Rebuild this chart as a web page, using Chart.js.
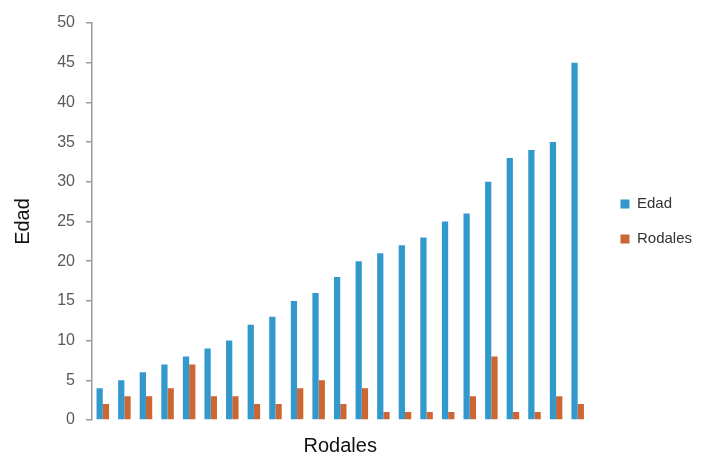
<!DOCTYPE html>
<html>
<head>
<meta charset="utf-8">
<script src="https://cdn.jsdelivr.net/npm/chart.js@4"></script>
<style>
  html, body { margin: 0; padding: 0; background: #ffffff; }
  #wrap { width: 702px; height: 456px; }
</style>
</head>
<body>
<div id="wrap"><canvas id="edadChart"></canvas></div>
<script>
// one group per rodal, 23 in all
var rodales = ['1', '2', '3', '4', '5', '6', '7', '8', '9', '10', '11', '12',
               '13', '14', '15', '16', '17', '18', '19', '20', '21', '22', '23'];
var edad = [4, 5, 6, 7, 8, 9, 10, 12, 13, 15, 16, 18, 20, 21, 22, 23, 25, 26, 30, 33, 34, 35, 45];
var rodalesCount = [2, 3, 3, 4, 7, 3, 3, 2, 2, 4, 5, 2, 4, 1, 1, 1, 1, 3, 8, 1, 1, 3, 2];

var axisGrey = '#9a9a9a';
var textGrey = '#5a5a5a';

var ctx = document.getElementById('edadChart').getContext('2d');
var edadChart = new Chart(ctx, {
    type: 'bar',
    data: {
        labels: rodales,
        datasets: [{
            label: 'Edad',
            data: edad,
            backgroundColor: '#3399CC',
            categoryPercentage: 0.58,
            barPercentage: 1.0
        }, {
            label: 'Rodales',
            data: rodalesCount,
            backgroundColor: '#CC6633',
            categoryPercentage: 0.58,
            barPercentage: 1.0
        }]
    },
    options: {
        responsive: true,
        maintainAspectRatio: false,
        animation: false,
        layout: { padding: { left: 7, top: 23, right: 0, bottom: 0 } },
        scales: {
            x: {
                grid: { display: false },
                border: { display: false },
                ticks: { display: false },
                title: {
                    display: true,
                    text: 'Rodales',
                    color: '#111111',
                    font: { family: 'Liberation Sans', size: 20, lineHeight: 1 },
                    padding: { top: 0, bottom: 0 }
                },
                afterFit: function (scale) { scale.height = 36; }
            },
            y: {
                min: 0,
                max: 50,
                ticks: {
                    stepSize: 5,
                    color: textGrey,
                    padding: 11,
                    font: { family: 'Liberation Sans', size: 16 }
                },
                grid: {
                    drawOnChartArea: false,
                    tickLength: 6,
                    color: axisGrey,
                    lineWidth: 1.5
                },
                border: { color: axisGrey, width: 1.5 },
                title: {
                    display: true,
                    text: 'Edad',
                    color: '#111111',
                    font: { family: 'Liberation Sans', size: 20 },
                    padding: { top: 4, bottom: 0 }
                },
                afterFit: function (scale) { scale.width = 85; }
            },
            // empty strip between the bars and the legend
            gap: {
                type: 'linear',
                position: 'right',
                grid: { display: false },
                border: { display: false },
                ticks: { display: false },
                afterFit: function (scale) { scale.width = 12; }
            }
        },
        plugins: {
            legend: {
                position: 'right',
                fullSize: false,
                labels: {
                    boxWidth: 9,
                    boxHeight: 9,
                    padding: 20,
                    color: '#333333',
                    font: { family: 'Liberation Sans', size: 15 }
                }
            },
            tooltip: { enabled: false }
        }
    }
});
</script>
</body>
</html>
